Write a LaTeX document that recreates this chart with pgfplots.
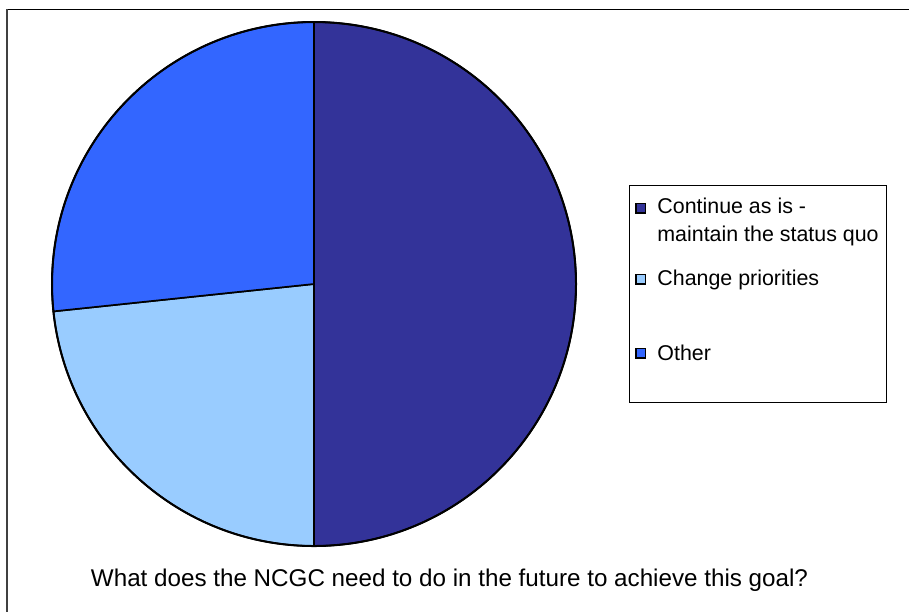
\documentclass[border=0pt]{standalone}
\usepackage{pgfplots}
\pgfplotsset{compat=1.18}
\usepackage{pgfplotstable}
\usepackage{fontspec}
\setmainfont{Liberation Sans}
\definecolor{cont}{HTML}{333399}
\definecolor{chg}{HTML}{99CCFF}
\definecolor{oth}{HTML}{3366FF}
\pgfplotstableread{
label value
Continue 15
Change 7
Other 8
}\piedata
\begin{document}
\begin{tikzpicture}
\pgfplotstablegetelem{0}{value}\of\piedata \pgfmathsetmacro\va{\pgfplotsretval}
\pgfplotstablegetelem{1}{value}\of\piedata \pgfmathsetmacro\vb{\pgfplotsretval}
\pgfplotstablegetelem{2}{value}\of\piedata \pgfmathsetmacro\vc{\pgfplotsretval}
\pgfmathsetmacro\tot{\va+\vb+\vc}
\pgfmathsetmacro\aA{90}
\pgfmathsetmacro\aB{90-360*\va/\tot}
\pgfmathsetmacro\aC{\aB-360*\vb/\tot}
\pgfmathsetmacro\aD{\aC-360*\vc/\tot}
\useasboundingbox (0,0) rectangle (454.5pt,-306pt);
\begin{axis}[at={(157pt,-142pt)}, anchor=center, scale only axis, width=262pt, height=262pt,
  xmin=-1, xmax=1, ymin=-1, ymax=1, hide axis, clip=false]
\filldraw[fill=cont, draw=black, line width=0.85pt, line join=round] (axis cs:0,0) -- (axis cs:{cos(\aA)},{sin(\aA)}) arc[start angle=\aA, end angle=\aB, radius=131pt] -- cycle;
\filldraw[fill=chg, draw=black, line width=0.85pt, line join=round] (axis cs:0,0) -- (axis cs:{cos(\aB)},{sin(\aB)}) arc[start angle=\aB, end angle=\aC, radius=131pt] -- cycle;
\filldraw[fill=oth, draw=black, line width=0.85pt, line join=round] (axis cs:0,0) -- (axis cs:{cos(\aC)},{sin(\aC)}) arc[start angle=\aC, end angle=\aD, radius=131pt] -- cycle;
\draw[line width=1pt] (axis cs:0,0) circle[radius=131pt];
\end{axis}
\begin{scope}[x=0.5pt, y=-0.5pt]
\draw[black, line width=0.7pt] (6,9.5) -- (909,9.5);
\draw[black!75, line width=1pt] (7,9) -- (7,612);
\draw[line width=0.5pt] (629,185) rectangle (886,402);
\filldraw[fill=cont, draw=black, line width=0.6pt] (636,203.5) rectangle (645.5,213);
\filldraw[fill=chg, draw=black, line width=0.6pt] (636,274.5) rectangle (645.5,284);
\filldraw[fill=oth, draw=black, line width=0.6pt] (636,348.5) rectangle (645.5,358);
\node[anchor=west, inner sep=0pt, align=left, font=\fontsize{10.7}{14.3}\selectfont] at (657,222) {Continue as is -\\maintain the status quo};
\node[anchor=west, inner sep=0pt, font=\fontsize{10.7}{14.3}\selectfont] at (657,280) {Change priorities};
\node[anchor=west, inner sep=0pt, font=\fontsize{10.7}{14.3}\selectfont] at (657,353) {Other};
\node[inner sep=0pt, font=\fontsize{12.1}{14}\selectfont] at (449.5,580) {What does the NCGC need to do in the future to achieve this goal?};
\end{scope}
\end{tikzpicture}
\end{document}
